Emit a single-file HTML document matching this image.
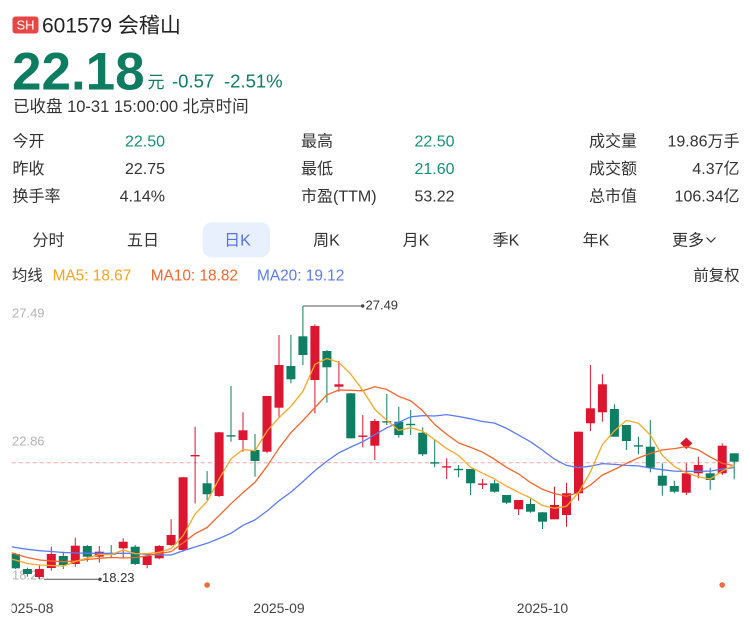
<!DOCTYPE html>
<html><head><meta charset="utf-8">
<style>
html,body{margin:0;padding:0;background:#fff;}
body{width:750px;height:632px;overflow:hidden;}
svg{display:block;font-family:"Liberation Sans","Noto Sans CJK SC",sans-serif;}
</style></head>
<body>
<svg width="750" height="632" viewBox="0 0 750 632" xmlns="http://www.w3.org/2000/svg">
<defs>
<clipPath id="cc"><rect x="11.7" y="290" width="729" height="340"/></clipPath>
</defs>
<!-- header -->
<rect x="12.5" y="16.5" width="26" height="17" rx="3" fill="#e84545"/>
<text x="25.5" y="29.6" font-size="13" fill="#fff" text-anchor="middle">SH</text>
<text x="42" y="32.5" font-size="21" fill="#222">601579 会稽山</text>
<text x="12" y="89.5" font-size="53" font-weight="bold" fill="#0e7c61">22.18</text>
<text x="147.5" y="88" font-size="17" fill="#0e7c61">元</text>
<text x="172" y="87.5" font-size="18.5" fill="#0e7c61">-0.57</text>
<text x="224" y="87.5" font-size="18.5" fill="#0e7c61">-2.51%</text>
<text x="13" y="111.8" font-size="16.5" fill="#333">已收盘 10-31 15:00:00 北京时间</text>

<!-- stats -->
<g font-size="16" fill="#333">
<text x="12.5" y="146.5">今开</text>
<text x="12.5" y="174">昨收</text>
<text x="12.5" y="201.3">换手率</text>
<text x="165" y="146.5" text-anchor="end" fill="#14917a">22.50</text>
<text x="165" y="174" text-anchor="end">22.75</text>
<text x="165" y="201.3" text-anchor="end">4.14%</text>
<text x="301" y="146.5">最高</text>
<text x="301" y="174">最低</text>
<text x="301" y="201.3">市盈(TTM)</text>
<text x="454.5" y="146.5" text-anchor="end" fill="#14917a">22.50</text>
<text x="454.5" y="174" text-anchor="end" fill="#14917a">21.60</text>
<text x="454.5" y="201.3" text-anchor="end">53.22</text>
<text x="589" y="146.5">成交量</text>
<text x="589" y="174">成交额</text>
<text x="589" y="201.3">总市值</text>
<text x="739.5" y="146.5" text-anchor="end">19.86万手</text>
<text x="739.5" y="174" text-anchor="end">4.37亿</text>
<text x="739.5" y="201.3" text-anchor="end">106.34亿</text>
</g>

<!-- tabs -->
<rect x="202.7" y="222.3" width="67.3" height="35" rx="9" fill="#e8f0fd"/>
<g font-size="16" fill="#333" text-anchor="middle">
<text x="48.5" y="245.3">分时</text>
<text x="143" y="245.3">五日</text>
<text x="237.5" y="245.3" fill="#5b72e6">日K</text>
<text x="326.5" y="245.3">周K</text>
<text x="416" y="245.3">月K</text>
<text x="506" y="245.3">季K</text>
<text x="596" y="245.3">年K</text>
<text x="688" y="245.3">更多</text>
</g>
<polyline points="706.5,237.5 711,242 715.5,237.5" fill="none" stroke="#333" stroke-width="1.2"/>

<!-- legend -->
<g font-size="15.4">
<text x="12" y="280.5" fill="#333">均线</text>
<text x="52.6" y="280.5" fill="#f7a21b">MA5: 18.67</text>
<text x="150.7" y="280.5" fill="#f5662a">MA10: 18.82</text>
<text x="257" y="280.5" fill="#5b7bf3">MA20: 19.12</text>
<text x="739.5" y="280.5" fill="#333" text-anchor="end">前复权</text>
</g>

<!-- axis labels -->
<g font-size="13" fill="#b3b3b3">
<text x="12" y="317.4">27.49</text>
<text x="12" y="445.7">22.86</text>
<text x="12" y="579.7">18.23</text>
</g>

<g clip-path="url(#cc)">
<line x1="11.7" y1="462.7" x2="740" y2="462.7" stroke="#f3a6a6" stroke-width="1" stroke-dasharray="4,3"/>

<!-- green candles -->
<g fill="#0f7e62">
<rect x="14.9" y="553" width="1" height="16"/><rect x="10.9" y="554" width="9" height="14.3"/>
<rect x="26.9" y="567.7" width="1" height="9"/><rect x="22.9" y="569" width="9" height="5"/>
<rect x="62.8" y="551.7" width="1" height="17.3"/><rect x="58.8" y="556" width="9" height="9"/>
<rect x="86.8" y="545" width="1" height="16.7"/><rect x="82.8" y="546" width="9" height="10.7"/>
<rect x="110.7" y="545" width="1" height="13"/><rect x="106.7" y="553.3" width="9" height="1.4"/>
<rect x="134.7" y="545" width="1" height="20"/><rect x="130.7" y="546.7" width="9" height="17.3"/>
<rect x="206.6" y="471" width="1" height="29"/><rect x="202.6" y="483.3" width="9" height="11"/>
<rect x="230.5" y="386" width="1" height="55.7"/><rect x="226.5" y="435.2" width="9" height="1.4"/>
<rect x="254.5" y="434" width="1" height="42.7"/><rect x="250.5" y="450" width="9" height="11"/>
<rect x="290.4" y="335" width="1" height="48.3"/><rect x="286.4" y="366" width="9" height="13.3"/>
<rect x="302.4" y="306" width="1" height="59"/><rect x="298.4" y="336.3" width="9" height="18.7"/>
<rect x="326.4" y="350" width="1" height="52.7"/><rect x="322.4" y="351" width="9" height="16.3"/>
<rect x="350.3" y="393" width="1" height="45.5"/><rect x="346.3" y="393.3" width="9" height="45"/>
<rect x="386.3" y="394" width="1" height="31"/><rect x="382.3" y="421.2" width="9" height="1.4"/>
<rect x="398.3" y="406.7" width="1" height="31"/><rect x="394.3" y="421.7" width="9" height="13.3"/>
<rect x="410.2" y="410" width="1" height="25"/><rect x="406.2" y="423.8" width="9" height="1.4"/>
<rect x="422.2" y="427.3" width="1" height="28.7"/><rect x="418.2" y="432.7" width="9" height="21.6"/>
<rect x="434.2" y="440" width="1" height="27.3"/><rect x="430.2" y="462.2" width="9" height="1.4"/>
<rect x="458.1" y="465" width="1" height="12.3"/><rect x="454.1" y="468.8" width="9" height="1.4"/>
<rect x="470.1" y="469" width="1" height="26"/><rect x="466.1" y="469" width="9" height="14.3"/>
<rect x="494.1" y="480" width="1" height="12.7"/><rect x="490.1" y="483.3" width="9" height="8.4"/>
<rect x="506.1" y="495" width="1" height="9"/><rect x="502.1" y="495" width="9" height="7.7"/>
<rect x="530" y="498.3" width="1" height="14.4"/><rect x="526" y="504" width="9" height="7.7"/>
<rect x="542" y="512" width="1" height="17"/><rect x="538" y="512.3" width="9" height="9.4"/>
<rect x="613.9" y="404.3" width="1" height="32.4"/><rect x="609.9" y="409" width="9" height="27.7"/>
<rect x="625.9" y="425" width="1" height="25"/><rect x="621.9" y="425" width="9" height="16"/>
<rect x="637.9" y="436.7" width="1" height="17.6"/><rect x="633.9" y="445.2" width="9" height="1.4"/>
<rect x="649.8" y="420" width="1" height="52.3"/><rect x="645.8" y="446.7" width="9" height="21"/>
<rect x="661.8" y="463.3" width="1" height="32.4"/><rect x="657.8" y="475.7" width="9" height="10"/>
<rect x="673.8" y="480.7" width="1" height="12.6"/><rect x="669.8" y="486" width="9" height="5.7"/>
<rect x="709.7" y="467.7" width="1" height="22.3"/><rect x="705.7" y="473.3" width="9" height="6.7"/>
<rect x="733.7" y="453.3" width="1" height="26"/><rect x="729.7" y="453.3" width="9" height="8.4"/>
</g>

<!-- red candles -->
<g fill="#dc1530">
<rect x="38.9" y="565.7" width="1" height="13.6"/><rect x="34.9" y="569" width="9" height="8"/>
<rect x="50.8" y="546.7" width="1" height="24"/><rect x="46.8" y="554" width="9" height="14"/>
<rect x="74.8" y="537.7" width="1" height="29"/><rect x="70.8" y="545.7" width="9" height="18.3"/>
<rect x="98.8" y="546" width="1" height="16.7"/><rect x="94.8" y="551.7" width="9" height="5"/>
<rect x="122.7" y="538.3" width="1" height="19.7"/><rect x="118.7" y="541.7" width="9" height="6.6"/>
<rect x="146.7" y="553.3" width="1" height="15"/><rect x="142.7" y="556" width="9" height="9"/>
<rect x="158.7" y="545" width="1" height="14.3"/><rect x="154.7" y="546" width="9" height="12.3"/>
<rect x="170.6" y="519.3" width="1" height="26.7"/><rect x="166.6" y="535" width="9" height="10"/>
<rect x="182.6" y="477" width="1" height="74.7"/><rect x="178.6" y="477.3" width="9" height="72.7"/>
<rect x="194.6" y="426.7" width="1" height="76.8"/><rect x="190.6" y="455" width="9" height="1.4"/>
<rect x="218.6" y="432" width="1" height="65"/><rect x="214.6" y="432.3" width="9" height="63.7"/>
<rect x="242.5" y="412.3" width="1" height="39.4"/><rect x="238.5" y="430.3" width="9" height="9.7"/>
<rect x="266.5" y="396" width="1" height="57"/><rect x="262.5" y="396" width="9" height="55.7"/>
<rect x="278.5" y="335" width="1" height="81.7"/><rect x="274.5" y="365" width="9" height="42.7"/>
<rect x="314.4" y="324.3" width="1" height="89"/><rect x="310.4" y="326" width="9" height="54"/>
<rect x="338.4" y="361" width="1" height="30.7"/><rect x="334.4" y="384.3" width="9" height="2.4"/>
<rect x="362.3" y="415" width="1" height="32.3"/><rect x="358.3" y="435.5" width="9" height="1.4"/>
<rect x="374.3" y="419" width="1" height="41"/><rect x="370.3" y="421" width="9" height="24.7"/>
<rect x="446.2" y="458.3" width="1" height="20.7"/><rect x="442.2" y="466.2" width="9" height="1.4"/>
<rect x="482.1" y="479" width="1" height="10"/><rect x="478.1" y="483.5" width="9" height="1.4"/>
<rect x="518.1" y="500" width="1" height="15"/><rect x="514.1" y="500" width="9" height="9.3"/>
<rect x="554" y="486.7" width="1" height="32.6"/><rect x="550" y="505" width="9" height="14.3"/>
<rect x="566" y="482.7" width="1" height="44"/><rect x="562" y="493.3" width="9" height="21.7"/>
<rect x="578" y="431.7" width="1" height="69"/><rect x="574" y="431.7" width="9" height="61.6"/>
<rect x="589.9" y="365" width="1" height="66"/><rect x="585.9" y="408.3" width="9" height="15"/>
<rect x="601.9" y="374.3" width="1" height="47.4"/><rect x="597.9" y="384.3" width="9" height="28"/>
<rect x="685.8" y="463.3" width="1" height="31.7"/><rect x="681.8" y="473.3" width="9" height="19.4"/>
<rect x="697.8" y="456.7" width="1" height="21.6"/><rect x="693.8" y="465" width="9" height="8.3"/>
<rect x="721.7" y="443.3" width="1" height="31.7"/><rect x="717.7" y="445.7" width="9" height="27.6"/>
<polygon points="686.3,437.6 692.4,443.3 686.3,449 680.2,443.3"/>
</g>

<!-- MA lines -->
<g fill="none" stroke-width="1.3" stroke-linejoin="round">
<polyline stroke="#5b7bf3" points="11.7,546.7 15.4,547.5 27.4,549.3 39.4,550.7 51.3,551.5 63.3,552.5 75.3,553 87.3,553.3 99.3,553.3 111.2,553.3 123.2,553.3 135.2,553.5 147.2,554.3 159.2,555 171.1,555 183.1,550.8 195.1,547 207.1,543.3 219.1,538.5 231,533.3 243,525.3 255,519.9 267,511 279,500.8 290.9,492.1 302.9,481.6 314.9,470.6 326.9,461.1 338.9,452.8 350.8,447 362.8,441.7 374.8,434.6 386.8,427.8 398.8,422.3 410.7,416.8 422.7,415.6 434.7,416 446.7,414.6 458.6,416.5 470.6,418.8 482.6,421.5 494.6,423.1 506.6,428.4 518.6,435.1 530.5,441.8 542.5,450.1 554.5,459.1 566.5,465.4 578.5,467.7 590.4,466.2 602.4,463.6 614.4,464.4 626.4,465.4 638.4,465.9 650.3,468.1 662.3,469.7 674.3,471.1 686.3,471.4 698.3,471.2 710.2,471.1 722.2,469.1 734.2,467.6"/>
<polyline stroke="#f5662a" points="11.7,552.7 15.4,554 27.4,557.5 39.4,560 51.3,561 63.3,561.7 75.3,561 87.3,559.5 99.3,558.3 111.2,557.5 123.2,558 135.2,557.6 147.2,555.8 159.2,553.5 171.1,551.6 183.1,542.8 195.1,533.7 207.1,527.5 219.1,515.6 231,503.7 243,492.6 255,482.3 267,466.3 279,448.2 290.9,432.6 302.9,420.4 314.9,407.5 326.9,394.8 338.9,390 350.8,390.3 362.8,390.8 374.8,386.8 386.8,389.4 398.8,396.4 410.7,400.9 422.7,410.8 434.7,424.5 446.7,434.4 458.6,442.9 470.6,447.4 482.6,452.2 494.6,459.3 506.6,467.4 518.6,473.9 530.5,482.6 542.5,489.4 554.5,493.6 566.5,496.3 578.5,492.5 590.4,485 602.4,475 614.4,469.5 626.4,463.4 638.4,457.9 650.3,453.5 662.3,449.9 674.3,448.6 686.3,446.6 698.3,449.9 710.2,457.1 722.2,463.3 734.2,465.8"/>
<polyline stroke="#f9a825" points="11.7,559.3 15.4,560 27.4,563.5 39.4,565 51.3,565.5 63.3,566.1 75.3,561.5 87.3,558.1 99.3,554.6 111.2,554.6 123.2,550 135.2,553.6 147.2,553.5 159.2,552.3 171.1,548.5 183.1,535.7 195.1,513.9 207.1,501.5 219.1,478.8 231,458.9 243,449.5 255,450.7 267,431.1 279,417.6 290.9,406.3 302.9,391.3 314.9,364.3 326.9,358.5 338.9,362.4 350.8,374.2 362.8,390.4 374.8,409.4 386.8,420.3 398.8,430.4 410.7,427.6 422.7,431.3 434.7,439.6 446.7,448.6 458.6,455.5 470.6,467.3 482.6,473.2 494.6,479 506.6,486.2 518.6,492.3 530.5,498 542.5,505.6 554.5,508.2 566.5,506.3 578.5,492.7 590.4,472 602.4,444.5 614.4,430.9 626.4,420.4 638.4,423.2 650.3,435.1 662.3,455.4 674.3,466.4 686.3,472.8 698.3,476.7 710.2,479.1 722.2,471.1 734.2,465.1"/>
</g>

<!-- high / low markers -->
<line x1="303" y1="306" x2="362.7" y2="306" stroke="#555" stroke-width="1"/>
<circle cx="362.7" cy="306" r="1.7" fill="#444"/>
<line x1="44" y1="579.3" x2="100" y2="579.3" stroke="#555" stroke-width="1"/>
<circle cx="100" cy="579.3" r="1.7" fill="#444"/>

<!-- dates -->
<g font-size="14" fill="#444">
<text x="53.5" y="613" text-anchor="end">2025-08</text>
<text x="279" y="613" text-anchor="middle">2025-09</text>
<text x="542.5" y="613" text-anchor="middle">2025-10</text>
</g>
</g>

<text x="365.5" y="309.7" font-size="13" fill="#333">27.49</text>
<text x="102" y="582" font-size="13" fill="#333">18.23</text>

<circle cx="207.1" cy="585" r="2.8" fill="#f26b3a"/>
<circle cx="722.2" cy="585" r="2.8" fill="#f26b3a"/>
</svg>
</body></html>
